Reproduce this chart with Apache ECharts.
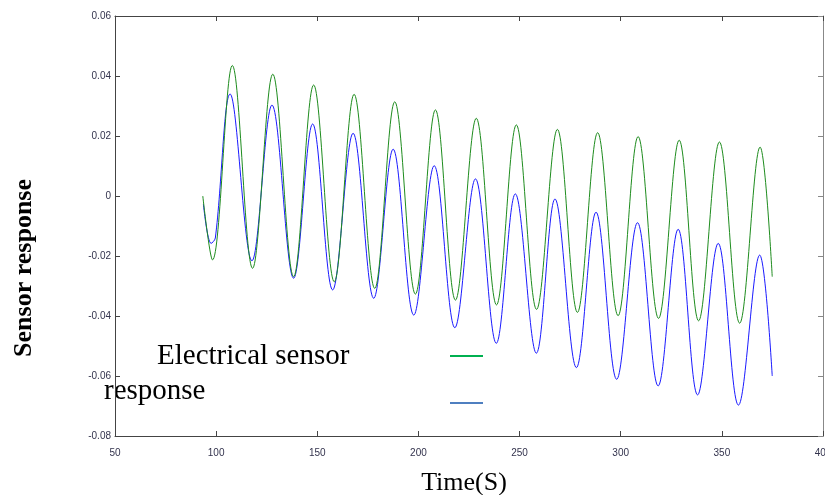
<!DOCTYPE html>
<html>
<head>
<meta charset="utf-8">
<script src="https://cdn.jsdelivr.net/npm/echarts@6/dist/echarts.min.js"></script>
<style>
  html, body { margin: 0; padding: 0; background: #ffffff; }
  #chart { width: 825px; height: 495px; }
</style>
</head>
<body>
<div id="chart"></div>
<script>
// ---- Data ----
const xTicks = [50, 100, 150, 200, 250, 300, 350, 400];
const yTicks = [-0.08, -0.06, -0.04, -0.02, 0, 0.02, 0.04, 0.06];

// Green curve (upper trace): extrema times (s) and values
const greenTime = [93.4, 98.2, 108.0, 118.0, 128.0, 138.3, 148.2, 158.4, 168.2, 178.4, 188.3, 198.5,
  208.4, 218.3, 228.6, 238.6, 248.4, 258.4, 268.7, 278.6, 288.6, 298.7, 308.6, 318.7,
  328.9, 338.5, 348.8, 358.8, 368.9, 374.9];
const greenValue = [0.0, -0.0213, 0.0435, -0.0241, 0.0406, -0.0269, 0.0370, -0.0286, 0.0339, -0.0308, 0.0314, -0.0327,
  0.0287, -0.0347, 0.0259, -0.0363, 0.0237, -0.0378, 0.0222, -0.0388, 0.0211, -0.0399, 0.0198, -0.0408,
  0.0186, -0.0416, 0.0180, -0.0424, 0.0163, -0.0269];

// Blue curve (lower trace): extrema times (s) and values
const blueTime = [93.7, 97.5, 99.6, 106.9, 117.7, 127.6, 138.3, 147.7, 157.6, 167.7, 177.9, 187.5, 197.7,
  207.8, 218.0, 228.2, 238.5, 247.9, 258.3, 267.5, 278.1, 287.8, 298.0, 308.3, 318.5,
  328.4, 338.0, 348.2, 358.2, 368.7, 374.9];
const blueValue = [-0.0027, -0.0158, -0.0140, 0.0340, -0.0216, 0.0303, -0.0274, 0.0240, -0.0313, 0.0209, -0.0341, 0.0156, -0.0397,
  0.0101, -0.0439, 0.0057, -0.0491, 0.0007, -0.0524, -0.0010, -0.0572, -0.0054, -0.0611, -0.0089, -0.0633,
  -0.0111, -0.0663, -0.0158, -0.0697, -0.0197, -0.0600];

const legendLabelLine1 = 'Electrical sensor';
const legendLabelLine2 = 'response';
const xTitle = 'Time(S)';
const yTitle = 'Sensor response';

// ---- Build chart ----
const zip = (t, v) => t.map((x, i) => [x, v[i]]);
const tickColor = '#33334d';
const axisColor = '#444444';

const chart = echarts.init(document.getElementById('chart'), null, { renderer: 'canvas' });

const fmtY = v => (Math.abs(v) < 1e-9 ? '0' : v.toFixed(2));

chart.setOption({
  backgroundColor: '#ffffff',
  animation: false,
  grid: { left: 115, right: 2, top: 16, bottom: 59, containLabel: false, outerBoundsMode: 'none' },
  xAxis: [{
    type: 'value', min: xTicks[0], max: xTicks[xTicks.length - 1], interval: 50,
    position: 'bottom',
    name: xTitle, nameLocation: 'middle', nameGap: 34,
    nameTextStyle: { fontFamily: 'Liberation Serif', fontSize: 26, color: '#000000', padding: [0, 10, 0, 0] },
    axisLine: { show: true, onZero: false, lineStyle: { color: axisColor, width: 1 } },
    axisTick: { show: true, inside: true, length: 5, lineStyle: { color: axisColor } },
    axisLabel: { fontFamily: 'Liberation Sans', fontSize: 10, color: tickColor, margin: 12, formatter: v => String(v) },
    splitLine: { show: false }
  }, {
    type: 'value', min: xTicks[0], max: xTicks[xTicks.length - 1], interval: 50,
    position: 'top',
    axisLine: { show: true, onZero: false, lineStyle: { color: axisColor, width: 1 } },
    axisTick: { show: true, inside: true, length: 5, lineStyle: { color: axisColor } },
    axisLabel: { show: false },
    splitLine: { show: false }
  }],
  yAxis: [{
    type: 'value', min: yTicks[0], max: yTicks[yTicks.length - 1], interval: 0.02,
    position: 'left',
    axisLine: { show: true, onZero: false, lineStyle: { color: axisColor, width: 1 } },
    axisTick: { show: true, inside: true, length: 5, lineStyle: { color: axisColor } },
    axisLabel: { fontFamily: 'Liberation Sans', fontSize: 10, color: tickColor, margin: 4, formatter: fmtY },
    splitLine: { show: false }
  }, {
    type: 'value', min: yTicks[0], max: yTicks[yTicks.length - 1], interval: 0.02,
    position: 'right',
    axisLine: { show: true, onZero: false, lineStyle: { color: '#888888', width: 1 } },
    axisTick: { show: true, inside: true, length: 5, lineStyle: { color: '#888888' } },
    axisLabel: { show: false },
    splitLine: { show: false }
  }],
  series: [{
    name: 'Blue response', type: 'line', xAxisIndex: 0, yAxisIndex: 0,
    data: zip(blueTime, blueValue),
    smooth: 0.36, showSymbol: false, symbol: 'none',
    lineStyle: { color: '#1a1aff', width: 1 },
    z: 2
  }, {
    name: 'Electrical sensor response', type: 'line', xAxisIndex: 0, yAxisIndex: 0,
    data: zip(greenTime, greenValue),
    smooth: 0.36, showSymbol: false, symbol: 'none',
    lineStyle: { color: '#1e8c1e', width: 1 },
    z: 3
  }],
  graphic: [
    {
      type: 'text', left: 11, top: 179, rotation: Math.PI / 2,
      style: { text: yTitle, fontFamily: 'Liberation Serif', fontWeight: 'bold', fontSize: 26, fill: '#000000' }
    },
    {
      type: 'text', x: 157, y: 356,
      style: { text: legendLabelLine1, fontFamily: 'Liberation Serif', fontSize: 29, fill: '#000000', verticalAlign: 'middle', align: 'left' }
    },
    {
      type: 'text', x: 104, y: 391,
      style: { text: legendLabelLine2, fontFamily: 'Liberation Serif', fontSize: 29, fill: '#000000', verticalAlign: 'middle', align: 'left' }
    },
    {
      type: 'line', shape: { x1: 450, y1: 356, x2: 483, y2: 356 },
      style: { stroke: '#00b050', lineWidth: 2 }
    },
    {
      type: 'line', shape: { x1: 450, y1: 403, x2: 483, y2: 403 },
      style: { stroke: '#4f7fc0', lineWidth: 2 }
    }
  ]
});
</script>
</body>
</html>
